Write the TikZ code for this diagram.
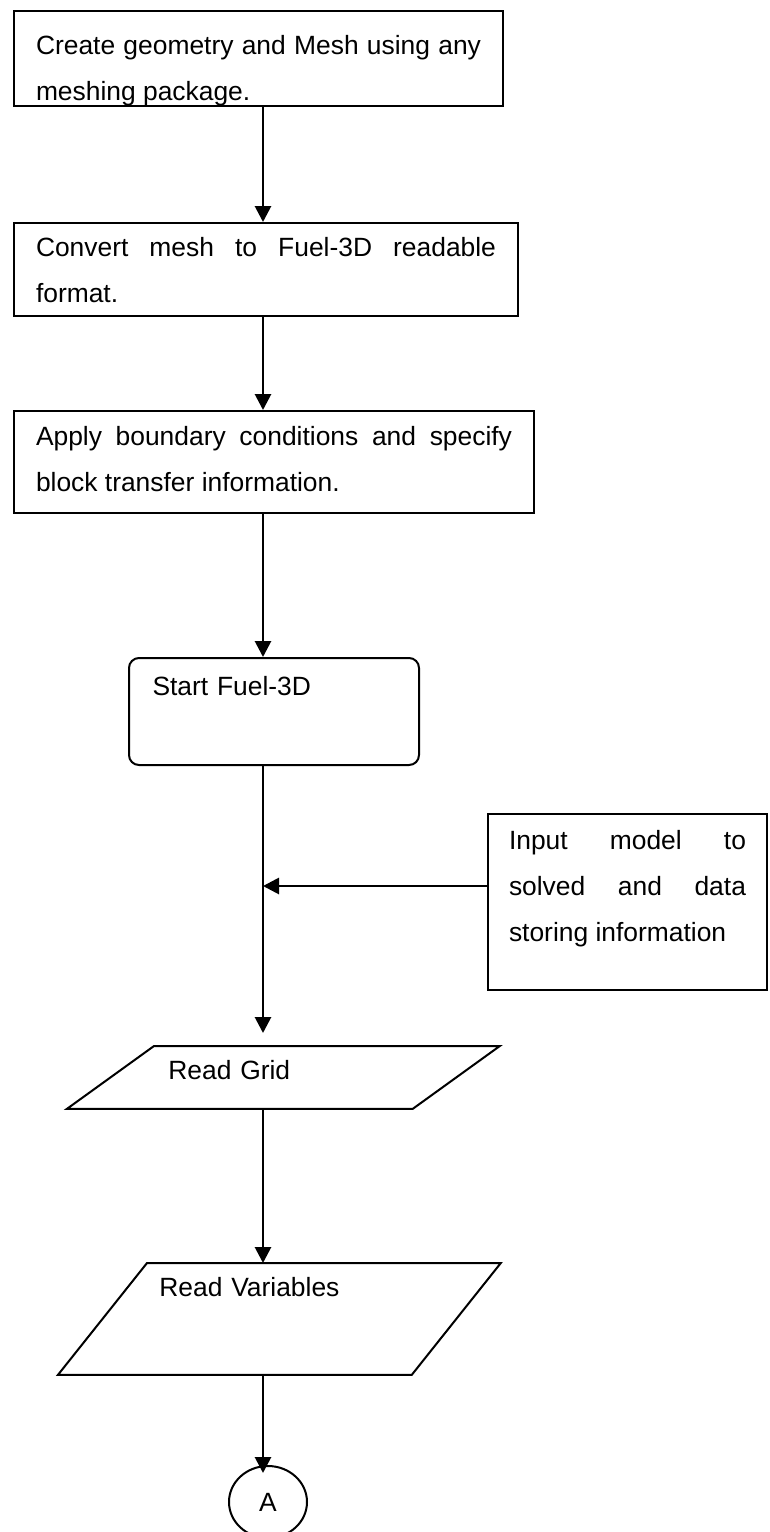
\documentclass[tikz,border=0pt]{standalone}
\usepackage{fontspec}
\setmainfont{Liberation Sans}
\usetikzlibrary{shapes.geometric,arrows.meta}

\newcommand{\boxpars}{\tolerance=10000\relax\hyphenpenalty=10000\relax\exhyphenpenalty=10000\relax}

\tikzset{
    boxtext/.style={font=\fontsize{13.2pt}{23pt}\selectfont\boxpars},
    procbox/.style={boxtext,draw,line width=1pt,anchor=north west,inner ysep=0pt,inner xsep=11pt,align=justify},
    startbox/.style={procbox,rounded corners=5pt,align=left,inner xsep=11.75pt},
    iobox/.style={boxtext,anchor=north west,inner ysep=0pt,inner xsep=50.5pt,align=left},
    border/.style={line width=1pt},
    flowline/.style={line width=1.4pt,-{Triangle[length=8pt,width=8pt]}}
}

\begin{document}
\begin{tikzpicture}[x=0.5pt,y=-0.5pt]
    \useasboundingbox (0,0) rectangle (770,1532);
    \coordinate (spine) at (263,0);
    \coordinate (join) at (263,886);
    % process boxes
    \node[procbox,text width=222.5pt,text height=21.5pt,text depth=26pt] (create) at (13,10)
        {Create geometry and Mesh using any\linebreak meshing package.};
    \node[procbox,text width=230pt,text height=16.5pt,text depth=30pt] (convert) at (13,222)
        {Convert mesh to Fuel-3D readable\linebreak format.};
    \node[procbox,text width=238pt,text height=17pt,text depth=34pt] (apply) at (13,410)
        {Apply boundary conditions and specify\linebreak block transfer information.};
    \node[startbox,text width=121.5pt,text height=18.5pt,text depth=35pt] (start) at (128,657)
        {Start Fuel-3D};
    \node[procbox,inner xsep=10.5pt,text width=118.5pt,text height=17.5pt,text depth=70.5pt] (side) at (487,813)
        {Input model to\linebreak solved and data\linebreak storing information};
    % input / output
    \node[iobox,text width=115pt,text height=16.5pt,text depth=14.5pt] (grid) at (67,1046) {Read Grid};
    \draw[border] ([xshift=43.5pt]grid.north west) -- (grid.north east)
        -- ([xshift=-43.5pt]grid.south east) -- (grid.south west) -- cycle;
    \node[iobox,text width=120pt,text height=16.5pt,text depth=39pt] (vars) at (58,1263) {Read Variables};
    \draw[border] ([xshift=44.5pt]vars.north west) -- (vars.north east)
        -- ([xshift=-44.5pt]vars.south east) -- (vars.south west) -- cycle;
    \node[ellipse,draw,border,boxtext,minimum width=39pt,minimum height=36pt,inner sep=0pt] (conA) at (268,1502) {A};
    % connectors
    \draw[flowline] (create.south -| spine) -- (convert.north -| spine);
    \draw[flowline] (convert.south -| spine) -- (apply.north -| spine);
    \draw[flowline] (apply.south -| spine) -- (start.north -| spine);
    \draw[flowline,shorten >=6.5pt] (start.south -| spine) -- (grid.north -| spine);
    \draw[flowline] (side.west |- join) -- (join);
    \draw[flowline] (grid.south -| spine) -- (vars.north -| spine);
    \draw[flowline,shorten >=-4pt] (vars.south -| spine) -- (conA.north -| spine);
\end{tikzpicture}
\end{document}
